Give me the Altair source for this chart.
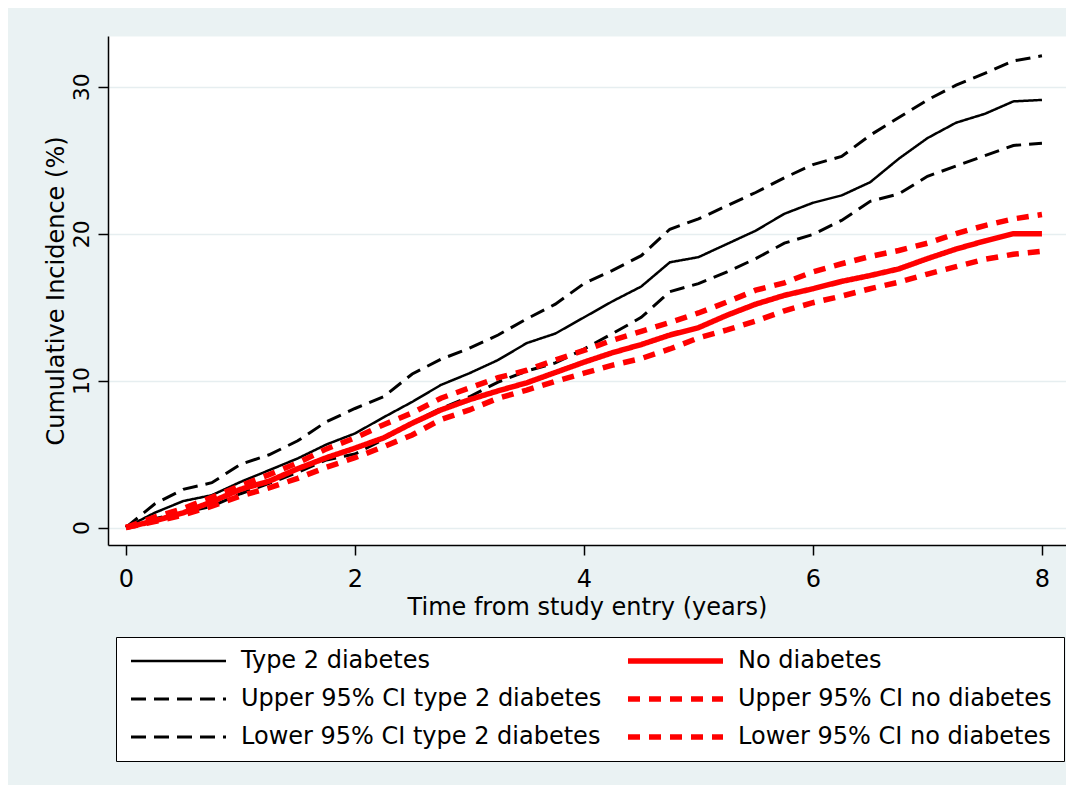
import altair as alt
import pandas as pd

# ---- data ----
years = [0, 0.25, 0.5, 0.75, 1.0, 1.25, 1.5, 1.75, 2.0, 2.25, 2.5, 2.75, 3.0, 3.25, 3.5, 3.75,
         4.0, 4.25, 4.5, 4.75, 5.0, 5.25, 5.5, 5.75, 6.0, 6.25, 6.5, 6.75, 7.0, 7.25, 7.5, 7.75, 8.0]

type2 = [0, 1.0, 1.8, 2.2, 3.1, 3.9, 4.7, 5.65, 6.4, 7.5, 8.55, 9.7, 10.5, 11.4, 12.55, 13.2,
         14.3, 15.4, 16.4, 18.05, 18.4, 19.3, 20.2, 21.35, 22.1, 22.6, 23.5, 25.1, 26.5, 27.55, 28.15, 29.0, 29.1]
type2_upper = [0, 1.6, 2.6, 3.05, 4.3, 4.95, 5.9, 7.2, 8.1, 8.9, 10.45, 11.45, 12.2, 13.1, 14.2, 15.2,
               16.6, 17.5, 18.5, 20.3, 21.0, 21.9, 22.8, 23.8, 24.7, 25.25, 26.7, 27.9, 29.1, 30.1, 30.9, 31.75, 32.1]
type2_lower = [0, 0.6, 1.0, 1.45, 2.3, 3.0, 3.75, 4.6, 5.0, 6.0, 7.15, 8.1, 8.9, 9.9, 10.65, 11.2,
               12.15, 13.2, 14.3, 16.05, 16.6, 17.4, 18.3, 19.35, 19.95, 20.9, 22.2, 22.7, 23.9, 24.6, 25.3, 26.0, 26.15]
nodiab = [0, 0.45, 1.0, 1.75, 2.6, 3.15, 4.0, 4.75, 5.4, 6.1, 7.1, 8.0, 8.7, 9.3, 9.85, 10.55,
          11.25, 11.9, 12.45, 13.1, 13.6, 14.45, 15.2, 15.8, 16.25, 16.75, 17.15, 17.6, 18.3, 18.95, 19.5, 20.0, 20.0]
nodiab_upper = [0, 0.7, 1.3, 2.05, 2.85, 3.6, 4.4, 5.35, 6.1, 7.0, 7.8, 8.8, 9.5, 10.2, 10.7, 11.4,
                12.05, 12.75, 13.35, 13.95, 14.6, 15.35, 16.15, 16.65, 17.4, 17.95, 18.45, 18.85, 19.35, 20.0, 20.55, 21.0, 21.3]
nodiab_lower = [0, 0.4, 0.85, 1.45, 2.15, 2.7, 3.35, 4.1, 4.75, 5.5, 6.3, 7.35, 8.0, 8.8, 9.35, 9.95,
                10.5, 11.05, 11.5, 12.15, 12.9, 13.45, 14.05, 14.75, 15.3, 15.75, 16.25, 16.7, 17.25, 17.75, 18.25, 18.6, 18.8]

names = ["Type 2 diabetes", "Upper 95% CI type 2 diabetes", "Lower 95% CI type 2 diabetes",
         "No diabetes", "Upper 95% CI no diabetes", "Lower 95% CI no diabetes"]
series_values = [type2, type2_upper, type2_lower, nodiab, nodiab_upper, nodiab_lower]

x_ticks = [0, 2, 4, 6, 8]
y_ticks = [0, 10, 20, 30]

# styles per series (same order as names; legend fills column by column)
colors = ["#000000", "#000000", "#000000", "#ff0000", "#ff0000", "#ff0000"]
dashes = [[1, 0], [15, 8], [15, 8], [1, 0], [12, 9], [12, 9]]
widths = [2.5, 3, 3, 5.5, 5.5, 5.5]

rows = []
for name, vals in zip(names, series_values):
    for t, v in zip(years, vals):
        rows.append({"series": name, "t": t, "v": v})
df = pd.DataFrame(rows)

FONT = "DejaVu Sans"

legend = alt.Legend(
    title=None, orient="none", legendX=8, legendY=601,
    columns=2, columnPadding=23, rowPadding=14, padding=12,
    clipHeight=24, symbolType="stroke", symbolSize=9025,
    symbolOffset=0, labelOffset=12,
    labelFont=FONT, labelFontSize=24, labelColor="black", labelLimit=1000,
    strokeColor="black", fillColor="white",
)

chart = alt.Chart(df).mark_line(strokeCap="butt").encode(
    x=alt.X("t:Q",
            scale=alt.Scale(domain=[-0.157, 8.21], nice=False, zero=False),
            axis=alt.Axis(values=x_ticks, title="Time from study entry (years)", grid=False,
                          labelFont=FONT, labelFontSize=24, labelPadding=12,
                          titleFont=FONT, titleFontSize=24, titleFontWeight="normal",
                          titleBaseline="alphabetic", titleY=69)),
    y=alt.Y("v:Q",
            scale=alt.Scale(domain=[-1.19, 33.45], nice=False, zero=False),
            axis=alt.Axis(values=y_ticks, title="Cumulative Incidence (%)", grid=True,
                          gridColor="#e6eef0", gridWidth=1.5,
                          labelFont=FONT, labelFontSize=22, labelAngle=270,
                          labelAlign="center", labelBaseline="alphabetic", labelPadding=10,
                          titleFont=FONT, titleFontSize=24, titleFontWeight="normal",
                          titleAngle=270, titleAlign="center", titleBaseline="alphabetic",
                          titleX=-45, titleY=254.5)),
    color=alt.Color("series:N", scale=alt.Scale(domain=names, range=colors), legend=legend),
    strokeDash=alt.StrokeDash("series:N", scale=alt.Scale(domain=names, range=dashes), legend=legend),
    strokeWidth=alt.StrokeWidth("series:N", scale=alt.Scale(type="ordinal", domain=names, range=widths),
                                legend=legend),
).properties(
    width=958, height=509,
    padding={"left": 100, "top": 28, "right": 0, "bottom": 240},
    autosize=alt.AutoSizeParams(type="none"),
    background="#EAF2F3",
).configure_view(
    fill="white", strokeOpacity=0,
).configure_axis(
    domainColor="black", domainWidth=1.5, tickColor="black", tickWidth=1.5, tickSize=10,
    labelColor="black", titleColor="black",
)

chart.save("out.html", embed_options={"renderer": "svg", "actions": False})
